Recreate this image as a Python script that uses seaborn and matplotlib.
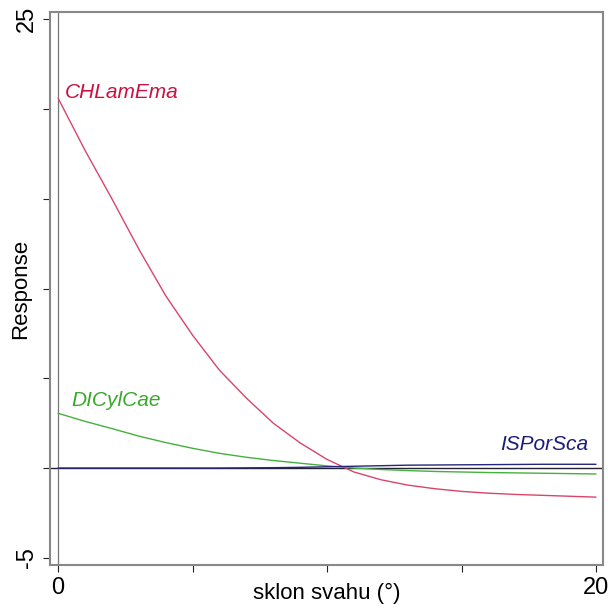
import numpy as np
import pandas as pd
import matplotlib
matplotlib.use("Agg")
import matplotlib.pyplot as plt
import seaborn as sns

slope = list(range(0, 21))
chlamema = [20.6, 17.7, 15.0, 12.2, 9.6, 7.4, 5.45, 3.9, 2.5, 1.4, 0.48,
            -0.22, -0.65, -0.95, -1.15, -1.3, -1.4, -1.47, -1.52, -1.57, -1.62]
dicylcae = [3.05, 2.6, 2.2, 1.78, 1.42, 1.1, 0.82, 0.6, 0.42, 0.27, 0.12,
            0.0, -0.08, -0.14, -0.19, -0.22, -0.25, -0.27, -0.29, -0.31, -0.33]
isporsca = [0.0, 0.0, 0.0, 0.0, 0.0, 0.0, 0.0, 0.01, 0.02, 0.04, 0.07,
            0.1, 0.13, 0.16, 0.17, 0.18, 0.19, 0.2, 0.21, 0.21, 0.21]

species = ["CHLamEma", "DICylCae", "ISPorSca"]
colors = {"CHLamEma": "#d8456a", "DICylCae": "#45b03e", "ISPorSca": "#26267a"}
label_colors = {"CHLamEma": "#cc1040", "DICylCae": "#3aa82e", "ISPorSca": "#1c1c78"}

df = pd.DataFrame({
    "slope": slope * 3,
    "response": chlamema + dicylcae + isporsca,
    "species": sum([[s] * len(slope) for s in species], []),
})

sns.set_style("white")
plt.rcParams["font.family"] = ["Liberation Sans", "DejaVu Sans"]

fig = plt.figure(figsize=(6.08, 6.10), dpi=100)
ax = fig.add_axes([50 / 608, 1 - 565 / 610, 553 / 608, 553 / 610])

ax.axhline(0, color="#222233", lw=1.0, zorder=1)
ax.axvline(0, color="#777777", lw=0.9, zorder=1)

sns.lineplot(data=df, x="slope", y="response", hue="species",
             palette=colors, lw=1.0, legend=False, ax=ax, zorder=2)

ax.set_xlim(-0.3, 20.26)
ax.set_ylim(-5.4, 25.4)
ax.set_xticks([0, 5, 10, 15, 20])
ax.set_xticklabels(["0", "", "", "", "20"])
ax.set_yticks([-5, 0, 5, 10, 15, 20, 25])
ax.set_yticklabels(["-5", "", "", "", "", "", "25"], rotation=90, va="center")
ax.tick_params(axis="both", direction="out", length=5, width=0.8,
               color="#222222", labelcolor="black", labelsize=17, pad=4,
               bottom=True, left=True)
for side in ax.spines.values():
    side.set_color("#888888")
    side.set_linewidth(1.5)

ax.set_xlabel("sklon svahu (°)", fontsize=16, color="black", va="center")
ax.set_ylabel("Response", fontsize=16, color="black", va="center")
ax.xaxis.set_label_coords(0.5, -0.051)
ax.yaxis.set_label_coords(-0.054, 0.5)

ax.text(0.25, 20.9, "CHLamEma", color=label_colors["CHLamEma"], style="italic",
        fontsize=15, va="center", ha="left")
ax.text(0.5, 3.75, "DICylCae", color=label_colors["DICylCae"], style="italic",
        fontsize=15, va="center", ha="left")
ax.text(19.7, 1.3, "ISPorSca", color=label_colors["ISPorSca"], style="italic",
        fontsize=15, va="center", ha="right")

fig.savefig("out.png", dpi=100)
